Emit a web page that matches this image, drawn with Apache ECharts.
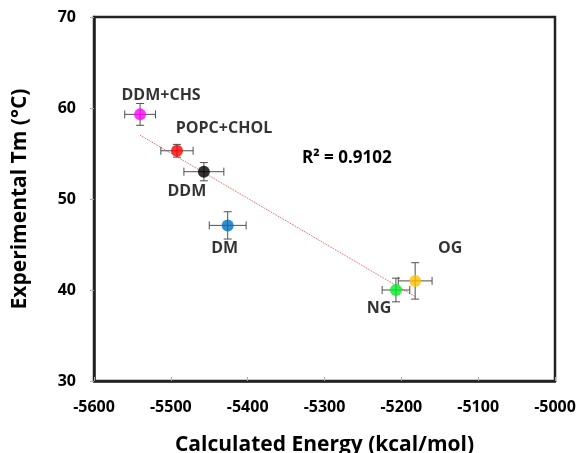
<!DOCTYPE html>
<html><head><meta charset="utf-8">
<script src="https://cdn.jsdelivr.net/npm/echarts@6/dist/echarts.min.js"></script>
<style>html,body{margin:0;padding:0;background:#fff}#c{width:578px;height:453px}</style>
</head><body><div id="c"></div>
<script>
var names = ['DDM+CHS','POPC+CHOL','DDM','DM','NG','OG'];
var energy = [-5540,-5492,-5457,-5426,-5207,-5182];
var tm = [59.3,55.3,53.0,47.1,40.0,41.0];
var energyErr = [20,21,26,24,18,22];
var tmErr = [1.2,0.7,1.0,1.5,1.3,2.0];
var colors = ['#ff00ff','#ff0000','#000000','#0070c0','#00ee22','#ffc000'];
var labelOffsets = [[21,-19],[47,-22],[-17,20],[-3,23],[-17,18],[35,-32]];
var xTicks = [-5600,-5500,-5400,-5300,-5200,-5100,-5000];
var yTicks = [30,40,50,60,70];
var r2Text = 'R\u00b2 = 0.9102';

// linear least-squares trendline from the data
var n = energy.length, mx=0, my=0;
for (var i=0;i<n;i++){mx+=energy[i];my+=tm[i];}
mx/=n; my/=n;
var sxy=0,sxx=0;
for (var i=0;i<n;i++){sxy+=(energy[i]-mx)*(tm[i]-my);sxx+=(energy[i]-mx)*(energy[i]-mx);}
var slope=sxy/sxx, icpt=my-slope*mx;
var xMin=Math.min.apply(null,energy), xMax=Math.max.apply(null,energy);
var trend=[[xMin,slope*xMin+icpt],[xMax,slope*xMax+icpt]];

var font = '"Open Sans", sans-serif';
var pts = names.map(function(nm,i){
  return {value:[energy[i],tm[i]], name:nm,
    itemStyle:{color:colors[i]},
    label:{show:true, formatter:nm, position:'inside', offset:labelOffsets[i],
      align:'center', verticalAlign:'middle', fontFamily:font, fontWeight:'bold', fontSize:16,
      color:'#000', textBorderWidth:0, textBorderColor:'transparent'}};
});
var errData = names.map(function(nm,i){return [energy[i],tm[i],energyErr[i],tmErr[i]];});

var chart = echarts.init(document.getElementById('c'));
chart.setOption({
  animation:false,
  grid:{left:94,right:23,top:17,bottom:72,show:true,borderColor:'#222',borderWidth:2.5,
    outerBoundsMode:'none',containLabel:false},
  xAxis:{type:'value',min:xTicks[0],max:xTicks[xTicks.length-1],interval:100,
    axisLine:{show:true,lineStyle:{color:'#222',width:2.5}},
    axisTick:{show:true,inside:true,length:4,lineStyle:{color:'#aaa'}},
    splitLine:{show:false},
    axisLabel:{fontFamily:font,fontWeight:'bold',fontSize:16,color:'#000',margin:18,
      formatter:function(v){return String(v);}},
    name:'Calculated Energy (kcal/mol)',nameLocation:'middle',nameGap:54,
    nameTextStyle:{fontFamily:font,fontWeight:'bold',fontSize:21,color:'#000'}},
  yAxis:{type:'value',min:yTicks[0],max:yTicks[yTicks.length-1],interval:10,
    axisLine:{show:true,lineStyle:{color:'#222',width:2.5}},
    axisTick:{show:true,inside:false,length:4,lineStyle:{color:'#aaa'}},
    splitLine:{show:false},
    axisLabel:{fontFamily:font,fontWeight:'bold',fontSize:16,color:'#000',margin:18},
    name:'Experimental Tm (\u00b0C)',nameLocation:'middle',nameGap:63,
    nameTextStyle:{fontFamily:font,fontWeight:'bold',fontSize:21,color:'#000'}},
  graphic:[{type:'text',left:302,top:150,style:{text:r2Text,font:'bold 17px "Open Sans", sans-serif',fill:'#000'}}],
  series:[
    {type:'line',data:trend,symbol:'none',lineStyle:{color:'#e05050',width:1,type:[1,1]},z:1,silent:true},
    {type:'custom',z:2,data:errData,renderItem:function(params,api){
      var x=api.value(0),y=api.value(1),ex=api.value(2),ey=api.value(3);
      var l=api.coord([x-ex,y]),r=api.coord([x+ex,y]),t=api.coord([x,y+ey]),b=api.coord([x,y-ey]);
      var c=4, st={stroke:'#505050',lineWidth:1};
      return {type:'group',children:[
        {type:'line',shape:{x1:l[0],y1:l[1],x2:r[0],y2:r[1]},style:st},
        {type:'line',shape:{x1:l[0],y1:l[1]-c,x2:l[0],y2:l[1]+c},style:st},
        {type:'line',shape:{x1:r[0],y1:r[1]-c,x2:r[0],y2:r[1]+c},style:st},
        {type:'line',shape:{x1:t[0],y1:t[1],x2:b[0],y2:b[1]},style:st},
        {type:'line',shape:{x1:t[0]-c,y1:t[1],x2:t[0]+c,y2:t[1]},style:st},
        {type:'line',shape:{x1:b[0]-c,y1:b[1],x2:b[0]+c,y2:b[1]},style:st}
      ]};
    }},
    {type:'scatter',z:3,symbolSize:12,data:pts}
  ]
});
</script></body></html>
